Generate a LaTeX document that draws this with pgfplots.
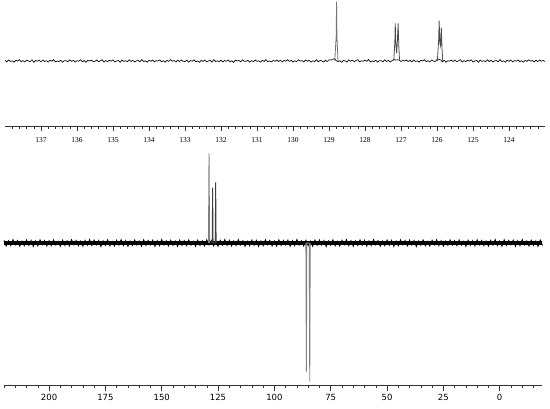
\documentclass[border=0pt]{standalone}
\usepackage{fontspec}
\setmainfont{Liberation Serif}
\newfontfamily\sanslab{DejaVu Sans}
\usepackage{pgfplots}
\pgfplotsset{compat=1.18}
\begin{document}
\begin{tikzpicture}
\useasboundingbox (0pt,0pt) rectangle (550pt,408pt);
% ---------------- top: expansion 123-138 ppm ----------------
\begin{axis}[at={(5pt,282pt)}, anchor=south west, scale only axis,
  width=540pt, height=126pt, xmin=123, xmax=138, ymin=-65, ymax=61,
  x dir=reverse, axis x line*=bottom, axis y line=none, clip=false,
  xtick={124,...,137}, minor xtick={123.2,123.4,...,137.8},
  tick align=outside, major tick length=5.5pt, minor tick length=3pt,
  every tick/.style={black!80, line width=0.5pt},
  axis line style={black!80, line width=0.6pt},
  xticklabel style={font=\fontsize{7.5}{9}\selectfont, text height=5pt, text depth=0pt, yshift=-2pt},
  /pgf/number format/assume math mode=true,
  /pgf/number format/1000 sep={}]
\addplot[black, line width=0.65pt] coordinates {
(138.00,0.6)(137.95,-0.9)(137.90,1.1)(137.85,-0.4)(137.80,0.2)(137.75,-1.2)(137.70,0.8)(137.65,-0.1)(137.60,1.3)(137.55,-0.7)
(137.50,0.4)(137.45,-1.0)(137.40,0.9)(137.35,0.0)(137.30,-0.6)(137.25,1.2)(137.20,-1.3)(137.15,0.5)(137.10,-0.2)(137.05,0.7)
(137.00,-0.8)(136.95,1.0)(136.90,-0.5)(136.85,0.3)(136.80,-1.1)(136.75,0.9)(136.70,-0.3)(136.65,1.4)(136.60,-0.9)(136.55,0.1)
(136.50,-0.6)(136.45,0.8)(136.40,-1.2)(136.35,0.4)(136.30,0.2)(136.25,-0.7)(136.20,1.1)(136.15,-0.4)(136.10,0.6)(136.05,-1.0)
(136.00,0.3)(135.95,-0.2)(135.90,1.2)(135.85,-0.8)(135.80,0.5)(135.75,-1.3)(135.70,0.7)(135.65,-0.1)(135.60,0.9)(135.55,-0.5)
(135.50,-0.3)(135.45,1.0)(135.40,-0.8)(135.35,0.2)(135.30,1.3)(135.25,-1.1)(135.20,0.4)(135.15,-0.6)(135.10,0.8)(135.05,-0.2)
(135.00,1.1)(134.95,-0.9)(134.90,0.0)(134.85,0.6)(134.80,-1.3)(134.75,0.9)(134.70,-0.4)(134.65,0.3)(134.60,-0.7)(134.55,1.2)
(134.50,-0.5)(134.45,0.7)(134.40,-1.0)(134.35,0.1)(134.30,0.5)(134.25,-0.8)(134.20,1.4)(134.15,-0.6)(134.10,0.2)(134.05,-1.2)
(134.00,0.8)(133.95,-0.3)(133.90,1.0)(133.85,-0.9)(133.80,0.4)(133.75,-0.1)(133.70,1.1)(133.65,-0.7)(133.60,0.3)(133.55,-1.1)
(133.50,0.6)(133.45,-0.4)(133.40,1.3)(133.35,-0.2)(133.30,0.5)(133.25,-0.9)(133.20,0.8)(133.15,-0.6)(133.10,1.0)(133.05,-0.3)
(133.00,-0.6)(132.95,0.9)(132.90,-1.1)(132.85,0.4)(132.80,-0.2)(132.75,1.2)(132.70,-0.8)(132.65,0.1)(132.60,-1.3)(132.55,0.7)
(132.50,-0.4)(132.45,1.0)(132.40,-0.9)(132.35,0.0)(132.30,0.6)(132.25,-1.2)(132.20,1.3)(132.15,-0.5)(132.10,0.2)(132.05,-0.7)
(132.00,0.8)(131.95,-1.0)(131.90,0.5)(131.85,-0.3)(131.80,1.1)(131.75,-0.9)(131.70,0.3)(131.65,-1.4)(131.60,0.9)(131.55,-0.1)
(131.50,0.6)(131.45,-0.8)(131.40,1.2)(131.35,-0.4)(131.30,-0.2)(131.25,0.7)(131.20,-1.1)(131.15,0.4)(131.10,-0.6)(131.05,1.0)
(131.00,-0.3)(130.95,0.2)(130.90,-1.2)(130.85,0.8)(130.80,-0.5)(130.75,1.3)(130.70,-0.7)(130.65,0.1)(130.60,-0.9)(130.55,0.5)
(130.50,-0.3)(130.45,1.0)(130.40,-0.6)(130.35,0.8)(130.30,-0.9)(130.25,0.5)(130.20,-0.2)(130.15,1.3)(130.10,-0.4)(130.05,0.6)
(130.00,-1.1)(129.95,0.3)(129.90,-0.7)(129.85,1.1)(129.80,-0.1)(129.75,0.4)(129.70,-0.9)(129.65,1.0)(129.60,-0.3)(129.55,0.8)
(129.50,-1.2)(129.45,0.2)(129.40,-0.6)(129.35,1.4)(129.30,-0.8)(129.25,0.5)(129.20,0.1)(129.15,-1.0)(129.10,0.7)(129.05,-0.5)
(129.00,1.2)(128.95,0.9)(128.90,1.8)(128.85,2.2)(128.80,0.4)(128.75,-0.6)(128.70,0.3)(128.65,-1.3)(128.60,0.6)(128.55,0.0)
(128.50,-0.9)(128.45,1.1)(128.40,-0.2)(128.35,0.8)(128.30,-0.6)(128.25,0.4)(128.20,1.3)(128.15,-0.8)(128.10,0.2)(128.05,-0.3)
(128.00,0.9)(127.95,-0.3)(127.90,1.4)(127.85,-0.9)(127.80,0.1)(127.75,-0.6)(127.70,0.8)(127.65,-1.2)(127.60,0.4)(127.55,0.2)
(127.50,-0.7)(127.45,1.1)(127.40,-0.4)(127.35,0.6)(127.30,-1.0)(127.25,0.3)(127.20,1.5)(127.15,1.0)(127.10,1.2)(127.05,0.8)
(127.00,-0.5)(126.95,0.7)(126.90,-0.1)(126.85,0.9)(126.80,-0.5)(126.75,0.6)(126.70,-0.9)(126.65,1.1)(126.60,-0.4)(126.55,0.2)
(126.50,-1.2)(126.45,0.8)(126.40,-0.1)(126.35,1.3)(126.30,-0.7)(126.25,0.4)(126.20,-1.0)(126.15,0.9)(126.10,0.0)(126.05,-0.6)
(126.00,1.5)(125.95,1.8)(125.90,1.2)(125.85,-0.8)(125.80,0.7)(125.75,-1.1)(125.70,0.3)(125.65,-0.2)(125.60,0.8)(125.55,-0.5)
(125.50,1.0)(125.45,-0.8)(125.40,0.2)(125.35,1.3)(125.30,-1.1)(125.25,0.4)(125.20,-0.6)(125.15,0.8)(125.10,-0.2)(125.05,1.1)
(125.00,-0.9)(124.95,0.0)(124.90,0.6)(124.85,-1.3)(124.80,0.9)(124.75,-0.4)(124.70,0.3)(124.65,-0.7)(124.60,1.2)(124.55,-0.5)
(124.50,0.7)(124.45,-1.0)(124.40,0.1)(124.35,0.5)(124.30,-0.8)(124.25,1.4)(124.20,-0.6)(124.15,0.2)(124.10,-1.2)(124.05,0.8)
(124.00,-0.3)(123.95,1.0)(123.90,-0.9)(123.85,0.4)(123.80,-0.1)(123.75,1.1)(123.70,-0.7)(123.65,0.3)(123.60,-1.1)(123.55,0.6)
(123.50,-0.4)(123.45,1.3)(123.40,-0.2)(123.35,0.5)(123.30,-0.9)(123.25,0.8)(123.20,-0.6)(123.15,1.0)(123.10,-0.3)(123.05,0.6)
(123.00,-0.5)};
\addplot[black!55, line width=0.8pt] coordinates {
(128.84,0)(128.80,25)(128.79,59.3)(128.78,25)(128.75,0)};
\addplot[black!70, line width=0.8pt] coordinates {
(127.20,0)(127.17,20)(127.16,37.7)(127.14,15)(127.12,8)(127.10,20)(127.08,37.7)(127.06,15)(127.04,0)};
\addplot[black!70, line width=0.8pt] coordinates {
(125.99,0)(125.955,20)(125.94,40.3)(125.92,18)(125.90,15)(125.88,33.3)(125.86,12)(125.84,0)};
\end{axis}
% ---------------- bottom: full spectrum ----------------
\begin{axis}[at={(4pt,22.7pt)}, anchor=south west, scale only axis,
  width=538.5pt, height=235.3pt, xmin=-19, xmax=220, ymin=-142.3, ymax=93,
  x dir=reverse, axis x line*=bottom, axis y line=none, clip=false,
  xtick={0,25,...,200}, minor xtick={-15,-10,...,220},
  tick align=outside, major tick length=6pt, minor tick length=3pt,
  every tick/.style={black!80, line width=0.5pt},
  axis line style={black!80, line width=0.6pt},
  xticklabel style={font=\sanslab\fontsize{8.5}{10}\selectfont, text height=6pt, text depth=0pt},
  /pgf/number format/assume math mode=true,
  /pgf/number format/1000 sep={}]
\addplot[black, line width=4.2pt] coordinates {(220,0)(-19,0)};
\addplot[black, line width=0.8pt] coordinates {
(220,2.8)(219,-3.1)(218,2.2)(217,-2.6)(216,3.4)(215,-2.0)(214,2.5)(213,-3.3)(212,1.9)(211,-2.8)
(210,3.0)(209,-2.4)(208,2.7)(207,-3.5)(206,2.1)(205,-2.9)(204,3.2)(203,-1.8)(202,2.6)(201,-3.0)
(200,2.4)(199,-2.7)(198,3.1)(197,-2.2)(196,1.8)(195,-3.4)(194,2.9)(193,-2.5)(192,2.3)(191,-3.0)
(190,3.3)(189,-1.9)(188,2.6)(187,-2.8)(186,2.0)(185,-3.2)(184,2.7)(183,-2.3)(182,3.5)(181,-2.6)
(180,3.0)(179,-2.1)(178,2.5)(177,-3.6)(176,2.2)(175,-2.4)(174,3.2)(173,-2.9)(172,1.7)(171,-3.1)
(170,2.8)(169,-2.0)(168,3.4)(167,-2.7)(166,2.4)(165,-3.3)(164,2.0)(163,-2.5)(162,3.1)(161,-2.2)
(160,2.1)(159,-3.2)(158,3.3)(157,-2.5)(156,2.6)(155,-1.9)(154,2.9)(153,-3.4)(152,2.3)(151,-2.7)
(150,3.6)(149,-2.1)(148,2.2)(147,-3.0)(146,2.8)(145,-2.6)(144,1.9)(143,-3.3)(142,3.0)(141,-2.4)
(140,2.4)(139,-2.7)(138,3.1)(137,-2.2)(136,1.8)(135,-3.4)(134,2.9)(133,-2.5)(132,2.3)(131,-3.0)
(130,3.3)(129,-1.9)(128,2.6)(127,-2.8)(126,2.0)(125,-3.2)(124,2.7)(123,-2.3)(122,3.5)(121,-2.6)
(120,2.8)(119,-3.1)(118,2.2)(117,-2.6)(116,3.4)(115,-2.0)(114,2.5)(113,-3.3)(112,1.9)(111,-2.8)
(110,3.0)(109,-2.4)(108,2.7)(107,-3.5)(106,2.1)(105,-2.9)(104,3.2)(103,-1.8)(102,2.6)(101,-3.0)
(100,2.1)(99,-3.2)(98,3.3)(97,-2.5)(96,2.6)(95,-1.9)(94,2.9)(93,-3.4)(92,2.3)(91,-2.7)
(90,3.6)(89,-2.1)(88,2.2)(87,-3.0)(86,2.8)(85,-2.6)(84,1.9)(83,-3.3)(82,3.0)(81,-2.4)
(80,3.0)(79,-2.1)(78,2.5)(77,-3.6)(76,2.2)(75,-2.4)(74,3.2)(73,-2.9)(72,1.7)(71,-3.1)
(70,2.8)(69,-2.0)(68,3.4)(67,-2.7)(66,2.4)(65,-3.3)(64,2.0)(63,-2.5)(62,3.1)(61,-2.2)
(60,2.8)(59,-3.1)(58,2.2)(57,-2.6)(56,3.4)(55,-2.0)(54,2.5)(53,-3.3)(52,1.9)(51,-2.8)
(50,3.0)(49,-2.4)(48,2.7)(47,-3.5)(46,2.1)(45,-2.9)(44,3.2)(43,-1.8)(42,2.6)(41,-3.0)
(40,3.0)(39,-2.1)(38,2.5)(37,-3.6)(36,2.2)(35,-2.4)(34,3.2)(33,-2.9)(32,1.7)(31,-3.1)
(30,2.8)(29,-2.0)(28,3.4)(27,-2.7)(26,2.4)(25,-3.3)(24,2.0)(23,-2.5)(22,3.1)(21,-2.2)
(20,2.4)(19,-2.7)(18,3.1)(17,-2.2)(16,1.8)(15,-3.4)(14,2.9)(13,-2.5)(12,2.3)(11,-3.0)
(10,3.3)(9,-1.9)(8,2.6)(7,-2.8)(6,2.0)(5,-3.2)(4,2.7)(3,-2.3)(2,3.5)(1,-2.6)
(0,2.1)(-1,-3.2)(-2,3.3)(-3,-2.5)(-4,2.6)(-5,-1.9)(-6,2.9)(-7,-3.4)(-8,2.3)(-9,-2.7)
(-10,3.6)(-11,-2.1)(-12,2.2)(-13,-3.0)(-14,2.8)(-15,-2.6)(-16,1.9)(-17,-3.3)(-18,3.0)(-19,-2.4)};
\addplot[black!50, line width=0.9pt] coordinates {
(129.25,0)(129.0,89.7)(128.75,0)};
\addplot[black!75, line width=0.9pt] coordinates {
(127.6,0)(127.4,55.3)(127.2,0)(126.25,0)(126.05,60.7)(125.85,0)};
\addplot[black!50, line width=0.9pt] coordinates {
(86.0,0)(85.8,-128.7)(85.6,0)(84.5,0)(84.3,-138.7)(84.1,0)};
\end{axis}
\end{tikzpicture}
\end{document}
